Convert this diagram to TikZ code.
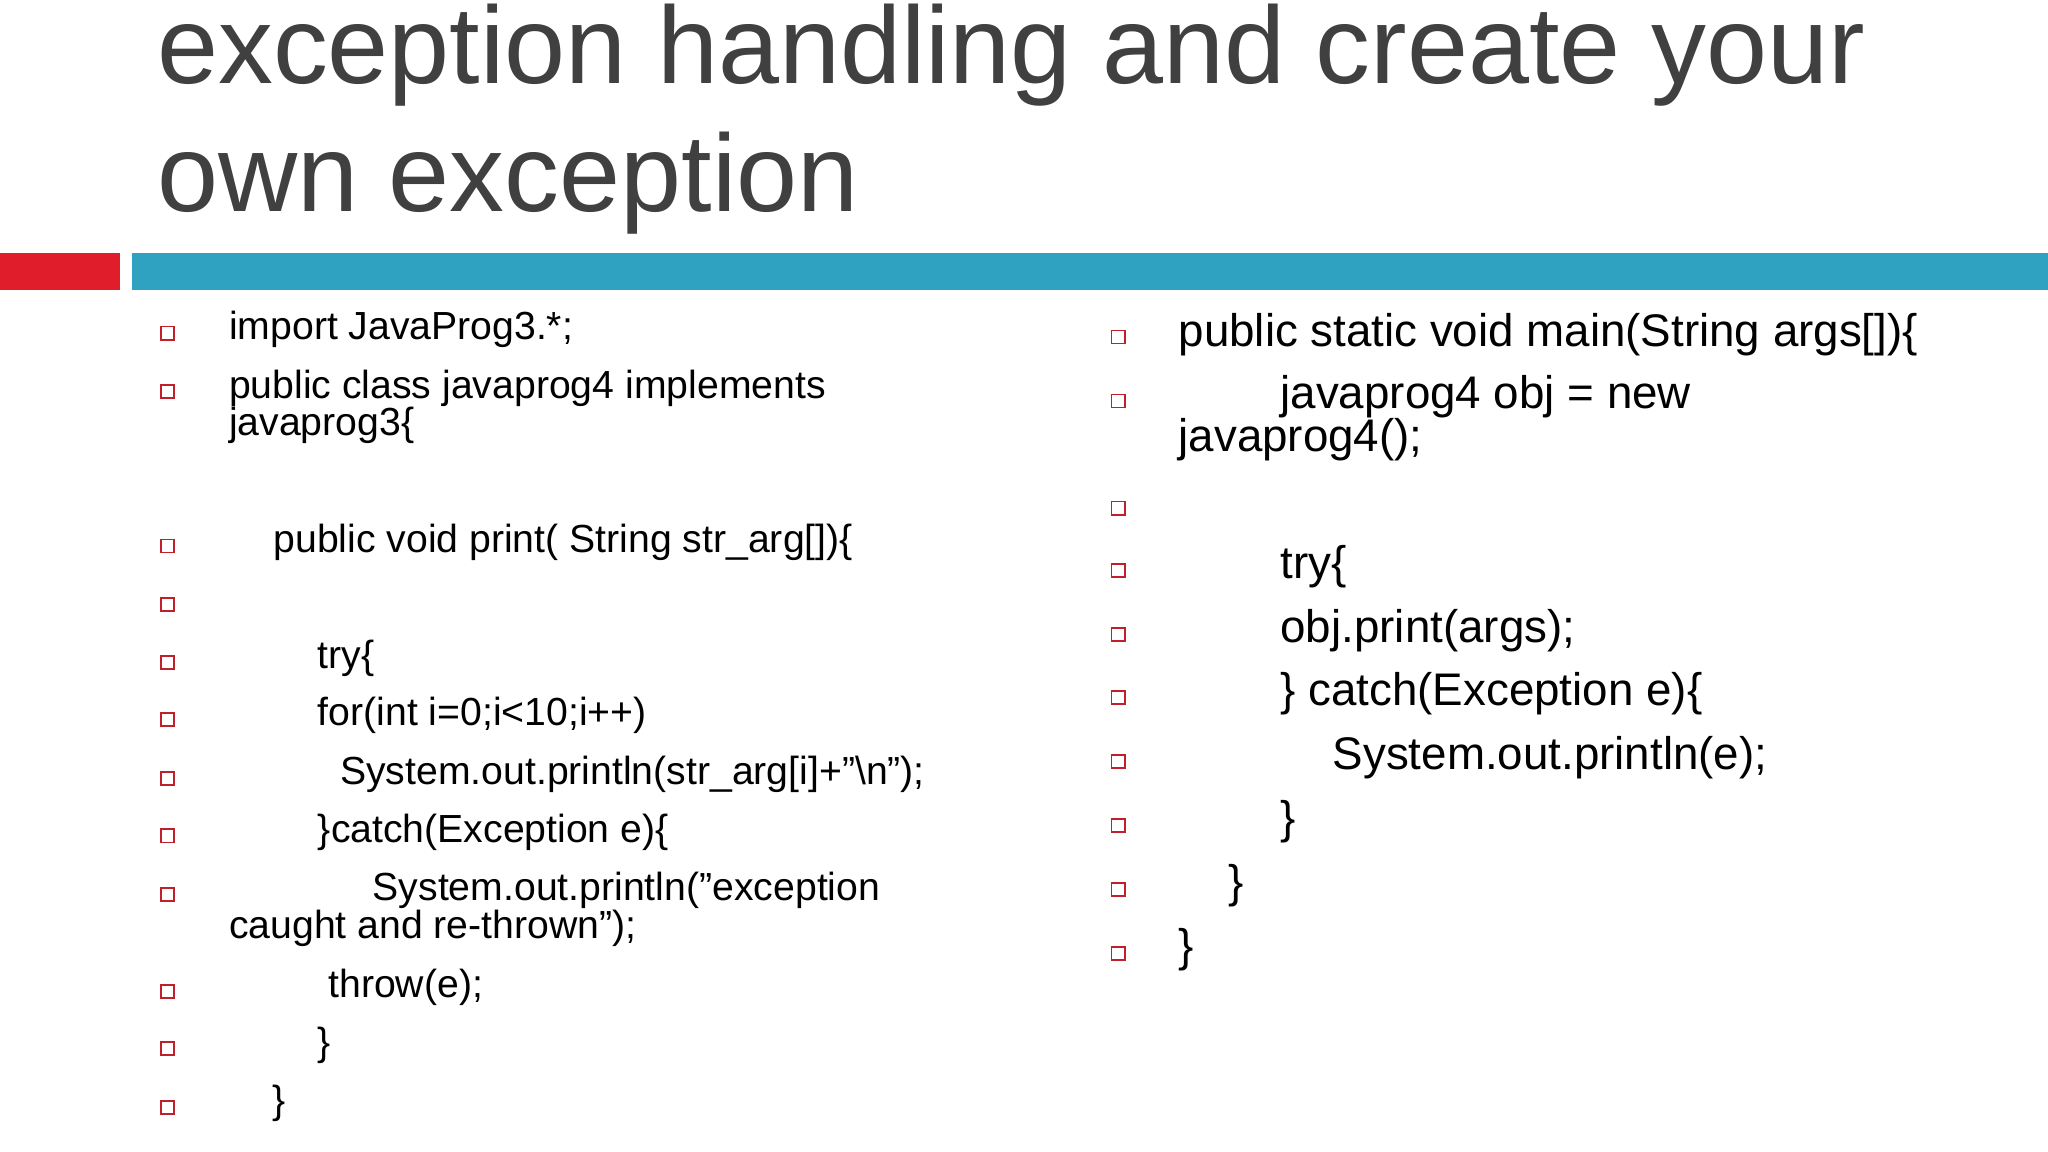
\documentclass[tikz,border=0pt]{standalone}
\usepackage{fontspec}
\setmainfont{Liberation Sans}
\definecolor{titlegray}{HTML}{404040}
\definecolor{barred}{HTML}{E01E2B}
\definecolor{barblue}{HTML}{2EA2C0}
\definecolor{bulred}{HTML}{C0202A}
\begin{document}
\begin{tikzpicture}[x=0.5pt,y=-0.5pt,
  title/.style={anchor=west,inner sep=0,text=titlegray,font=\fontsize{42}{42}\selectfont},
  lt/.style={anchor=west,inner sep=0,font=\fontsize{15}{15}\selectfont},
  rt/.style={anchor=west,inner sep=0,font=\fontsize{17.5}{17.5}\selectfont},
  bul/.style={draw=bulred,line width=0.7pt,minimum size=5pt,inner sep=0}]
\useasboundingbox (0,0) rectangle (1568,882);
\fill[white] (0,0) rectangle (1568,882);
\node[title] (t1) at (120,42) {exception handling and create your};
\node[title] (t2) at (120,140) {own exception};
\fill[barred] (0,194) rectangle (92,222);
\fill[barblue] (101,194) rectangle (1568,222);
% left column
\foreach \y/\n in {255/a,300/b,418/c,463/d,507/e,551/f,596/g,640/h,685/i,759/j,803/k,848/l}
  \node[bul] (bl\n) at (128,\y) {};
\node[lt] (l1) at (175,252) {import JavaProg3.*;};
\node[lt] (l2) at (175,297) {public class javaprog4 implements};
\node[lt] (l2b) at (175,326) {javaprog3\{};
\node[lt] (l3) at (209,415) {public void print( String str\_arg[])\{};
\node[lt] (l4) at (243,504) {try\{};
\node[lt] (l5) at (243,548) {for(int i=0;i<10;i++)};
\node[lt] (l6) at (260,593) {System.out.println(str\_arg[i]+"\textbackslash n");};
\node[lt] (l7) at (243,637) {\}catch(Exception e)\{};
\node[lt] (l8) at (285,682) {System.out.println("exception};
\node[lt] (l8b) at (175,711) {caught and re-thrown");};
\node[lt] (l9) at (251,756) {throw(e);};
\node[lt] (l10) at (243,800) {\}};
\node[lt] (l11) at (208,845) {\}};
% right column
\foreach \y/\n in {258/a,307/b,389/c,437/d,486/e,534/f,583/g,632/h,681/i,730/j}
  \node[bul] (br\n) at (856,\y) {};
\node[rt] (r1) at (902,256) {public static void main(String args[])\{};
\node[rt] (r2) at (980,304) {javaprog4 obj = new};
\node[rt] (r2b) at (902,337) {javaprog4();};
\node[rt] (r3) at (980,434) {try\{};
\node[rt] (r4) at (980,483) {obj.print(args);};
\node[rt] (r5) at (980,531) {\} catch(Exception e)\{};
\node[rt] (r6) at (1020,580) {System.out.println(e);};
\node[rt] (r7) at (980,629) {\}};
\node[rt] (r8) at (940,678) {\}};
\node[rt] (r9) at (902,727) {\}};
\end{tikzpicture}
\end{document}
